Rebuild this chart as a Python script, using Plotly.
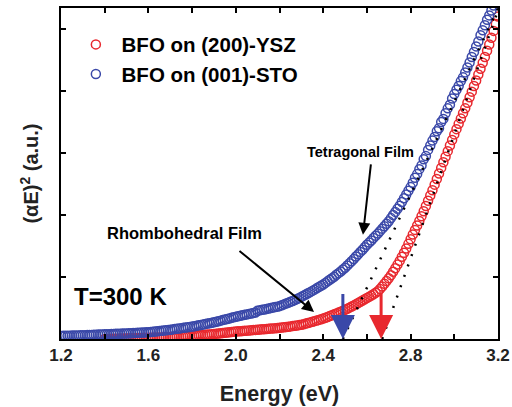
import plotly.graph_objects as go

# ---------------- data ----------------
sto_energy = [1.20, 1.21, 1.22, 1.23, 1.24, 1.25, 1.26, 1.27, 1.28, 1.29,
              1.30, 1.31, 1.32, 1.33, 1.34, 1.35, 1.36, 1.37, 1.38, 1.39,
              1.40, 1.41, 1.42, 1.43, 1.44, 1.45, 1.46, 1.47, 1.48, 1.49,
              1.50, 1.51, 1.52, 1.53, 1.54, 1.55, 1.56, 1.57, 1.58, 1.59,
              1.60, 1.61, 1.62, 1.63, 1.64, 1.65, 1.66, 1.67, 1.68, 1.69,
              1.70, 1.71, 1.72, 1.73, 1.74, 1.75, 1.76, 1.77, 1.78, 1.79,
              1.80, 1.81, 1.82, 1.83, 1.84, 1.85, 1.86, 1.87, 1.88, 1.89,
              1.90, 1.91, 1.92, 1.93, 1.94, 1.95, 1.96, 1.97, 1.98, 1.99,
              2.00, 2.01, 2.02, 2.03, 2.04, 2.05, 2.06, 2.07, 2.08, 2.09,
              2.10, 2.11, 2.12, 2.13, 2.14, 2.15, 2.16, 2.17, 2.18, 2.19,
              2.20, 2.21, 2.22, 2.23, 2.24, 2.25, 2.26, 2.27, 2.28, 2.29,
              2.30, 2.31, 2.32, 2.33, 2.34, 2.35, 2.36, 2.37, 2.38, 2.39,
              2.40, 2.41, 2.42, 2.43, 2.44, 2.45, 2.46, 2.47, 2.48, 2.49,
              2.50, 2.51, 2.52, 2.53, 2.54, 2.55, 2.56, 2.57, 2.58, 2.59,
              2.60, 2.61, 2.62, 2.63, 2.64, 2.65, 2.66, 2.67, 2.68, 2.69,
              2.70, 2.71, 2.72, 2.73, 2.74, 2.75, 2.76, 2.77, 2.78, 2.79,
              2.80, 2.81, 2.82, 2.83, 2.84, 2.85, 2.86, 2.87, 2.88, 2.89,
              2.90, 2.91, 2.92, 2.93, 2.94, 2.95, 2.96, 2.97, 2.98, 2.99,
              3.00, 3.01, 3.02, 3.03, 3.04, 3.05, 3.06, 3.07, 3.08, 3.09,
              3.10, 3.11, 3.12, 3.13, 3.14, 3.15, 3.16, 3.17, 3.18]
sto_alpha2 = [0.050, 0.051, 0.052, 0.053, 0.054, 0.055, 0.056, 0.057, 0.058, 0.059,
              0.060, 0.062, 0.063, 0.065, 0.066, 0.068, 0.069, 0.071, 0.072, 0.074,
              0.075, 0.077, 0.078, 0.080, 0.081, 0.083, 0.084, 0.086, 0.087, 0.089,
              0.090, 0.092, 0.094, 0.096, 0.098, 0.100, 0.102, 0.104, 0.106, 0.108,
              0.110, 0.113, 0.117, 0.121, 0.125, 0.129, 0.133, 0.137, 0.141, 0.146,
              0.150, 0.155, 0.160, 0.165, 0.170, 0.175, 0.180, 0.185, 0.190, 0.195,
              0.200, 0.206, 0.213, 0.220, 0.227, 0.234, 0.241, 0.248, 0.255, 0.262,
              0.270, 0.278, 0.287, 0.296, 0.305, 0.314, 0.323, 0.332, 0.341, 0.350,
              0.360, 0.367, 0.375, 0.382, 0.390, 0.397, 0.405, 0.412, 0.420, 0.427,
              0.455, 0.462, 0.470, 0.477, 0.485, 0.492, 0.500, 0.507, 0.515, 0.522,
              0.530, 0.544, 0.558, 0.572, 0.586, 0.600, 0.614, 0.629, 0.645, 0.662,
              0.680, 0.699, 0.718, 0.737, 0.756, 0.776, 0.796, 0.817, 0.838, 0.859,
              0.880, 0.905, 0.930, 0.955, 0.980, 1.005, 1.035, 1.062, 1.090, 1.120,
              1.150, 1.185, 1.220, 1.255, 1.290, 1.330, 1.365, 1.405, 1.440, 1.480,
              1.520, 1.555, 1.590, 1.630, 1.665, 1.700, 1.740, 1.780, 1.820, 1.860,
              1.900, 1.950, 2.000, 2.050, 2.100, 2.150, 2.210, 2.270, 2.330, 2.390,
              2.450, 2.520, 2.600, 2.660, 2.740, 2.800, 2.900, 2.950, 3.050, 3.120,
              3.200, 3.260, 3.350, 3.400, 3.500, 3.550, 3.640, 3.720, 3.780, 3.880,
              3.950, 4.020, 4.080, 4.160, 4.220, 4.300, 4.380, 4.460, 4.550, 4.630,
              4.720, 4.800, 4.900, 4.980, 5.060, 5.150, 5.220, 5.300, 5.380]

ysz_energy = [1.40, 1.41, 1.42, 1.43, 1.44, 1.45, 1.46, 1.47, 1.48, 1.49,
              1.50, 1.51, 1.52, 1.53, 1.54, 1.55, 1.56, 1.57, 1.58, 1.59,
              1.60, 1.61, 1.62, 1.63, 1.64, 1.65, 1.66, 1.67, 1.68, 1.69,
              1.70, 1.71, 1.72, 1.73, 1.74, 1.75, 1.76, 1.77, 1.78, 1.79,
              1.80, 1.81, 1.82, 1.83, 1.84, 1.85, 1.86, 1.87, 1.88, 1.89,
              1.90, 1.91, 1.92, 1.93, 1.94, 1.95, 1.96, 1.97, 1.98, 1.99,
              2.00, 2.01, 2.02, 2.03, 2.04, 2.05, 2.06, 2.07, 2.08, 2.09,
              2.10, 2.11, 2.12, 2.13, 2.14, 2.15, 2.16, 2.17, 2.18, 2.19,
              2.20, 2.21, 2.22, 2.23, 2.24, 2.25, 2.26, 2.27, 2.28, 2.29,
              2.30, 2.31, 2.32, 2.33, 2.34, 2.35, 2.36, 2.37, 2.38, 2.39,
              2.40, 2.41, 2.42, 2.43, 2.44, 2.45, 2.46, 2.47, 2.48, 2.49,
              2.50, 2.51, 2.52, 2.53, 2.54, 2.55, 2.56, 2.57, 2.58, 2.59,
              2.60, 2.61, 2.62, 2.63, 2.64, 2.65, 2.66, 2.67, 2.68, 2.69,
              2.70, 2.71, 2.72, 2.73, 2.74, 2.75, 2.76, 2.77, 2.78, 2.79,
              2.80, 2.81, 2.82, 2.83, 2.84, 2.85, 2.86, 2.87, 2.88, 2.89,
              2.90, 2.91, 2.92, 2.93, 2.94, 2.95, 2.96, 2.97, 2.98, 2.99,
              3.00, 3.01, 3.02, 3.03, 3.04, 3.05, 3.06, 3.07, 3.08, 3.09,
              3.10, 3.11, 3.12, 3.13, 3.14, 3.15, 3.16, 3.17, 3.18, 3.19,
              3.20]
ysz_alpha2 = [0.000, 0.001, 0.002, 0.003, 0.004, 0.005, 0.006, 0.007, 0.008, 0.009,
              0.010, 0.011, 0.012, 0.013, 0.014, 0.015, 0.016, 0.017, 0.018, 0.019,
              0.020, 0.021, 0.022, 0.023, 0.024, 0.025, 0.026, 0.027, 0.028, 0.029,
              0.030, 0.032, 0.034, 0.036, 0.038, 0.040, 0.042, 0.044, 0.046, 0.048,
              0.050, 0.053, 0.056, 0.059, 0.062, 0.065, 0.068, 0.071, 0.074, 0.077,
              0.080, 0.084, 0.088, 0.092, 0.096, 0.100, 0.104, 0.108, 0.112, 0.116,
              0.120, 0.123, 0.126, 0.129, 0.132, 0.135, 0.138, 0.141, 0.144, 0.147,
              0.150, 0.153, 0.156, 0.159, 0.162, 0.165, 0.168, 0.171, 0.174, 0.177,
              0.180, 0.184, 0.189, 0.193, 0.198, 0.203, 0.208, 0.213, 0.219, 0.224,
              0.230, 0.239, 0.248, 0.258, 0.268, 0.278, 0.288, 0.298, 0.308, 0.319,
              0.330, 0.343, 0.356, 0.370, 0.384, 0.398, 0.412, 0.426, 0.440, 0.455,
              0.470, 0.488, 0.506, 0.524, 0.542, 0.560, 0.580, 0.600, 0.620, 0.640,
              0.660, 0.680, 0.700, 0.722, 0.745, 0.770, 0.806, 0.846, 0.890, 0.935,
              0.980, 1.030, 1.085, 1.140, 1.200, 1.260, 1.325, 1.390, 1.460, 1.535,
              1.610, 1.685, 1.760, 1.830, 1.905, 1.980, 2.060, 2.145, 2.230, 2.315,
              2.400, 2.490, 2.580, 2.670, 2.760, 2.850, 2.940, 3.030, 3.120, 3.210,
              3.300, 3.385, 3.470, 3.555, 3.640, 3.720, 3.810, 3.900, 3.990, 4.080,
              4.170, 4.265, 4.360, 4.455, 4.550, 4.650, 4.750, 4.860, 4.970, 5.080,
              5.200]

# linear (Tauc) fits: end points of the dotted lines
sto_fit_energy = [2.49, 3.20]
sto_fit_alpha2 = [0.0, 5.33]
ysz_fit_energy = [2.67, 3.20]
ysz_fit_alpha2 = [0.0, 5.30]

# band gaps marked by arrows
band_gaps = [2.49, 2.665]
gap_arrow_tops = [0.75, 0.76]

x_ticks = [1.2, 1.6, 2.0, 2.4, 2.8, 3.2]
x_tick_labels = ["1.2", "1.6", "2.0", "2.4", "2.8", "3.2"]
y_ticks = [1, 2, 3, 4, 5]

RED = "#e8282e"
BLUE = "#3a48a8"
FONT = "Liberation Sans, Arial, sans-serif"
NB = "\u00a0"

fig = go.Figure()

fig.add_trace(go.Scatter(
    x=ysz_energy, y=ysz_alpha2, mode="markers", name=NB + "BFO on (200)-YSZ",
    marker=dict(symbol="circle-open", size=9, color=RED, line=dict(width=1.5, color=RED)),
))
fig.add_trace(go.Scatter(
    x=sto_energy, y=sto_alpha2, mode="markers", name=NB + "BFO on (001)-STO",
    marker=dict(symbol="circle-open", size=9, color=BLUE, line=dict(width=1.5, color=BLUE)),
))
fig.add_trace(go.Scatter(
    x=sto_fit_energy, y=sto_fit_alpha2, mode="lines", showlegend=False,
    line=dict(color="black", width=2.5, dash="2px,9px"),
))
fig.add_trace(go.Scatter(
    x=ysz_fit_energy, y=ysz_fit_alpha2, mode="lines", showlegend=False,
    line=dict(color="black", width=2.5, dash="2px,9px"),
))

# band gap arrows
for eg, top, col in zip(band_gaps, gap_arrow_tops, [BLUE, RED]):
    fig.add_annotation(x=eg, y=0.0, ax=eg, ay=top, xref="x", yref="y",
                       axref="x", ayref="y", text="", showarrow=True,
                       arrowhead=2, arrowsize=1.6, arrowwidth=3, arrowcolor=col)

# text labels and pointer arrows
fig.add_annotation(x=2.57, y=3.02, xref="x", yref="y", text="Tetragonal Film",
                   showarrow=False, font=dict(family=FONT, size=14.5, color="black", weight="bold"))
fig.add_annotation(x=2.582, y=1.68, ax=2.619, ay=2.84, xref="x", yref="y",
                   axref="x", ayref="y", text="", showarrow=True,
                   arrowhead=2, arrowsize=1.2, arrowwidth=2, arrowcolor="black")
fig.add_annotation(x=1.763, y=1.71, xref="x", yref="y", text="Rhombohedral Film",
                   showarrow=False, font=dict(family=FONT, size=16.5, color="black", weight="bold"))
fig.add_annotation(x=2.358, y=0.435, ax=2.01, ay=1.44, xref="x", yref="y",
                   axref="x", ayref="y", text="", showarrow=True,
                   arrowhead=2, arrowsize=1.2, arrowwidth=2, arrowcolor="black")
fig.add_annotation(x=1.47, y=0.68, xref="x", yref="y", text="T=300 K",
                   showarrow=False, font=dict(family=FONT, size=24, color="black", weight="bold"))

fig.update_layout(
    width=512, height=407,
    margin=dict(l=61, r=14, t=8, b=68),
    paper_bgcolor="white", plot_bgcolor="white",
    font=dict(family=FONT, color="black"),
    showlegend=True,
    legend=dict(x=0.034, y=0.95, xanchor="left", yanchor="top",
                bgcolor="rgba(0,0,0,0)", tracegroupgap=0, itemwidth=30,
                font=dict(family=FONT, size=20.5, color="black", weight="bold")),
    xaxis=dict(range=[1.2, 3.2], tickvals=x_ticks, ticktext=x_tick_labels,
               automargin=False,
               ticks="inside", ticklen=5, tickwidth=2, tickcolor="black",
               minor=dict(dtick=0.2, ticks="inside", ticklen=5, tickwidth=2, tickcolor="black"),
               showline=True, linewidth=2, linecolor="black", mirror="ticks",
               showgrid=False, zeroline=False,
               tickfont=dict(family=FONT, size=17, color="#222", weight="bold"),
               title=dict(text="Energy (eV)", standoff=22,
                          font=dict(family=FONT, size=21.5, color="#222", weight="bold"))),
    yaxis=dict(range=[0, 5.339], tickvals=y_ticks, showticklabels=False,
               automargin=False,
               ticks="inside", ticklen=5, tickwidth=2, tickcolor="black",
               showline=True, linewidth=2, linecolor="black", mirror="ticks",
               showgrid=False, zeroline=False,
               title=dict(text="(αE)<sup>2</sup> (a.u.)", standoff=15,
                          font=dict(family=FONT, size=20, color="#222", weight="bold"))),
)

fig.write_html("out.html", config={"displayModeBar": False},
               post_script="document.body.style.margin='0px';")
